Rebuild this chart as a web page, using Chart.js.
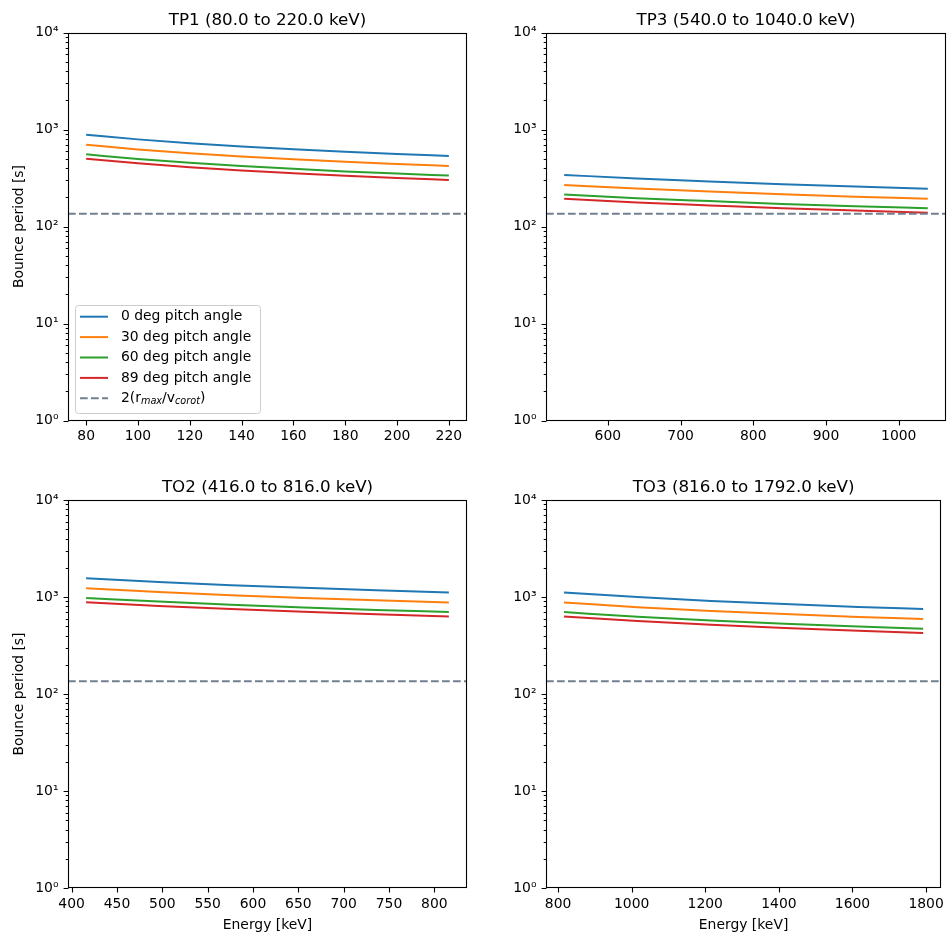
<!DOCTYPE html>
<html>
<head>
<meta charset="utf-8">
<script src="https://cdn.jsdelivr.net/npm/chart.js@4.4.0/dist/chart.umd.min.js"></script>
<style>
  body { margin: 0; background: #fff; }
  #fig { position: relative; width: 952px; height: 938px; background: #fff; }
  #fig canvas { position: absolute; }
</style>
</head>
<body>
<div id="fig">
  <canvas id="tp1" width="476" height="460" style="left:0px;top:0px"></canvas>
  <canvas id="tp3" width="476" height="460" style="left:476px;top:0px"></canvas>
  <canvas id="to2" width="476" height="478" style="left:0px;top:460px"></canvas>
  <canvas id="to3" width="476" height="478" style="left:476px;top:460px"></canvas>
</div>
<script>
// ---- data ----
const seriesLabels = ["0 deg pitch angle", "30 deg pitch angle", "60 deg pitch angle", "89 deg pitch angle"];
const seriesColors = ["#1f77b4", "#ff7f0e", "#2ca02c", "#d62728"];
const corotPeriod = 135; // 2(r_max/v_corot), seconds

// TP1 (80.0 to 220.0 keV)
const tp1Energy = [80, 100, 120, 140, 160, 180, 200, 220];
const tp1Deg0  = [884, 791, 722, 668, 625, 589, 559, 533];
const tp1Deg30 = [697, 623, 569, 527, 493, 464, 441, 420];
const tp1Deg60 = [555, 497, 453, 420, 393, 370, 351, 335];
const tp1Deg89 = [500, 448, 409, 378, 354, 333, 316, 302];

// TP3 (540.0 to 1040.0 keV)
const tp3Energy = [540, 640, 740, 840, 940, 1040];
const tp3Deg0  = [340, 313, 291, 273, 258, 245];
const tp3Deg30 = [268, 246, 229, 215, 203, 193];
const tp3Deg60 = [214, 196, 183, 171, 162, 154];
const tp3Deg89 = [193, 177, 165, 154, 146, 139];

// TO2 (416.0 to 816.0 keV)
const to2Energy = [416, 496, 576, 656, 736, 816];
const to2Deg0  = [1559, 1428, 1325, 1242, 1172, 1113];
const to2Deg30 = [1229, 1125, 1044, 979, 924, 877];
const to2Deg60 = [979, 897, 832, 780, 736, 699];
const to2Deg89 = [882, 808, 750, 703, 663, 630];

// TO3 (816.0 to 1792.0 keV)
const to3Energy = [816, 1016, 1216, 1416, 1616, 1792];
const to3Deg0  = [1113, 998, 912, 845, 791, 751];
const to3Deg30 = [877, 786, 719, 666, 623, 592];
const to3Deg60 = [699, 626, 573, 531, 497, 472];
const to3Deg89 = [630, 565, 516, 478, 448, 425];

// axis limits and ticks
const tp1XLim = [73, 227];
const tp3XLim = [515, 1065];
const to2XLim = [396, 836];
const to3XLim = [767.2, 1840.8];
const tp1XTicks = [80, 100, 120, 140, 160, 180, 200, 220];
const tp3XTicks = [600, 700, 800, 900, 1000];
const to2XTicks = [400, 450, 500, 550, 600, 650, 700, 750, 800];
const to3XTicks = [800, 1000, 1200, 1400, 1600, 1800];
const yTicks = [1, 10, 100, 1000, 10000];
const yTickLabels = ["10\u2070", "10\u00b9", "10\u00b2", "10\u00b3", "10\u2074"];

const FONT = "'DejaVu Sans', sans-serif";
Chart.defaults.font.family = FONT;
Chart.defaults.font.size = 13.9;
Chart.defaults.color = "#000";

function buildDatasets(energy, series, xlim) {
  const ds = series.map((vals, i) => ({
    label: seriesLabels[i],
    data: energy.map((e, j) => ({ x: e, y: vals[j] })),
    borderColor: seriesColors[i],
    borderWidth: 2,
    pointRadius: 0,
    cubicInterpolationMode: "monotone",
    fill: false,
    order: 4 - i
  }));
  ds.push({
    label: "corot",
    data: xlim.map(e => ({ x: e, y: corotPeriod })),
    borderColor: "#708090",
    borderDash: [7.7, 3.3],
    borderWidth: 2,
    pointRadius: 0,
    fill: false,
    order: 0
  });
  return ds;
}

// frame, tick marks, title and (optionally) legend
function framePlugin(title, showLegend) {
  return {
    id: "frame",
    afterDraw(chart) {
      const { ctx, chartArea: a, scales: { x, y } } = chart;
      ctx.save();
      ctx.strokeStyle = "#000";
      ctx.lineWidth = 1.1;
      const L = Math.round(a.left) + 0.5, R = Math.round(a.right) - 0.5;
      const T = Math.round(a.top) + 0.5, B = Math.round(a.bottom) - 0.5;
      ctx.strokeRect(L, T, R - L, B - T);

      // y ticks (major + minor)
      ctx.beginPath();
      for (let k = 0; k < 4; k++) {
        for (let m = 1; m < 10; m++) {
          const py = Math.round(y.getPixelForValue(m * Math.pow(10, k))) + 0.5;
          const len = m === 1 ? 4.9 : 2.8;
          ctx.moveTo(L - len, py); ctx.lineTo(L, py);
        }
      }
      const pTop = Math.round(y.getPixelForValue(10000)) + 0.5;
      ctx.moveTo(L - 4.9, pTop); ctx.lineTo(L, pTop);
      // x ticks
      x.ticks.forEach(t => {
        const px = Math.round(x.getPixelForValue(t.value)) + 0.5;
        ctx.moveTo(px, B); ctx.lineTo(px, B + 4.9);
      });
      ctx.stroke();

      // title
      ctx.fillStyle = "#000";
      ctx.font = "16.7px " + FONT;
      ctx.textAlign = "center";
      ctx.textBaseline = "alphabetic";
      ctx.fillText(title, (a.left + a.right) / 2, a.top - 8);

      if (showLegend) {
        const bx = a.left + 7, bw = 185, bh = 108, by = a.bottom - 7.5 - bh;
        ctx.beginPath();
        ctx.roundRect(bx + 0.5, by + 0.5, bw, bh, 3);
        ctx.fillStyle = "rgba(255,255,255,0.8)";
        ctx.fill();
        ctx.strokeStyle = "#cccccc";
        ctx.lineWidth = 1;
        ctx.stroke();
        ctx.textAlign = "left";
        ctx.textBaseline = "middle";
        const rowY = i => by + 11.7 + i * 20.4;
        chart.data.datasets.forEach((d, i) => {
          const ry = rowY(i);
          ctx.beginPath();
          ctx.strokeStyle = d.borderColor;
          ctx.lineWidth = 2;
          ctx.setLineDash(d.borderDash || []);
          ctx.moveTo(bx + 5, ry); ctx.lineTo(bx + 33, ry);
          ctx.stroke();
          ctx.setLineDash([]);
          ctx.fillStyle = "#000";
          if (i < seriesLabels.length) {
            ctx.font = "13.9px " + FONT;
            ctx.fillText(d.label, bx + 46, ry);
          } else {
            // 2(r_max/v_corot)
            let cx = bx + 46;
            const parts = [["2(r", false], ["max", true], ["/v", false], ["corot", true], [")", false]];
            parts.forEach(([s, sub]) => {
              ctx.font = (sub ? "italic 9.7px " : "13.9px ") + FONT;
              ctx.fillText(s, cx, sub ? ry + 3 : ry);
              cx += ctx.measureText(s).width;
            });
          }
        });
      }
      ctx.restore();
    }
  };
}

function makePanel(id, cfg) {
  const el = document.getElementById(id);
  return new Chart(el, {
    type: "line",
    data: { datasets: buildDatasets(cfg.energy, cfg.series, cfg.xlim) },
    options: {
      responsive: false,
      animation: false,
      devicePixelRatio: 1,
      layout: { padding: { left: 0, top: cfg.padTop, right: cfg.padRight, bottom: 0 } },
      plugins: { legend: { display: false }, tooltip: { enabled: false } },
      scales: {
        x: {
          type: "linear",
          min: cfg.xlim[0],
          max: cfg.xlim[1],
          grid: { display: false, drawTicks: false },
          border: { display: false },
          afterBuildTicks: s => { s.ticks = cfg.xticks.map(v => ({ value: v })); },
          afterFit: s => { s.height = cfg.xHeight; },
          ticks: { padding: 8, autoSkip: false, maxRotation: 0, color: "#000", font: { size: 13.9 },
                   callback: v => String(v) },
          title: { display: cfg.xTitle, text: "Energy [keV]", color: "#000", font: { size: 13.9 },
                   padding: { top: 0, bottom: 4.6 } }
        },
        y: {
          type: "logarithmic",
          min: 1,
          max: 10000,
          grid: { display: false, drawTicks: false },
          border: { display: false },
          afterBuildTicks: s => { s.ticks = yTicks.map(v => ({ value: v })); },
          afterFit: s => { s.width = cfg.yWidth; },
          ticks: { padding: 9.5, autoSkip: false, color: "#000", font: { size: 13.9 },
                   callback: (v, i) => yTickLabels[i] },
          title: { display: cfg.yTitle, text: "Bounce period [s]", color: "#000", font: { size: 13.9 },
                   padding: { top: 10.6, bottom: 0 } }
        }
      }
    },
    plugins: [framePlugin(cfg.title, cfg.legend)]
  });
}

makePanel("tp1", {
  title: "TP1 (80.0 to 220.0 keV)", energy: tp1Energy,
  series: [tp1Deg0, tp1Deg30, tp1Deg60, tp1Deg89], xlim: tp1XLim, xticks: tp1XTicks,
  padTop: 32.5, padRight: 9, yWidth: 68, xHeight: 39.5, xTitle: false, yTitle: true, legend: true
});
makePanel("tp3", {
  title: "TP3 (540.0 to 1040.0 keV)", energy: tp3Energy,
  series: [tp3Deg0, tp3Deg30, tp3Deg60, tp3Deg89], xlim: tp3XLim, xticks: tp3XTicks,
  padTop: 32.5, padRight: 6, yWidth: 70, xHeight: 39.5, xTitle: false, yTitle: false, legend: false
});
makePanel("to2", {
  title: "TO2 (416.0 to 816.0 keV)", energy: to2Energy,
  series: [to2Deg0, to2Deg30, to2Deg60, to2Deg89], xlim: to2XLim, xticks: to2XTicks,
  padTop: 40, padRight: 9, yWidth: 68, xHeight: 50, xTitle: true, yTitle: true, legend: false
});
makePanel("to3", {
  title: "TO3 (816.0 to 1792.0 keV)", energy: to3Energy,
  series: [to3Deg0, to3Deg30, to3Deg60, to3Deg89], xlim: to3XLim, xticks: to3XTicks,
  padTop: 40, padRight: 6, yWidth: 70, xHeight: 50, xTitle: true, yTitle: false, legend: false
});
</script>
</body>
</html>
